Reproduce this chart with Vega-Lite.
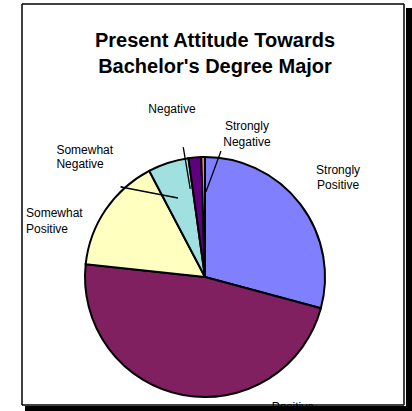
{
  "$schema": "https://vega.github.io/schema/vega-lite/v6.json",
  "width": 366,
  "height": 256,
  "autosize": "none",
  "padding": {"left": 22, "top": 149, "right": 24, "bottom": 6},
  "background": "white",
  "config": {"view": {"stroke": null}, "font": "Liberation Sans"},
  "title": {
    "text": ["Present Attitude Towards", "Bachelor's Degree Major"],
    "font": "Liberation Sans",
    "fontSize": 20,
    "fontWeight": "bold",
    "color": "black",
    "anchor": "middle",
    "frame": "group",
    "offset": -74,
    "dx": 10,
    "lineHeight": 26.7
  },
  "data": {
    "values": [
      {"attitude": "Strongly Positive", "label": "Strongly\nPositive", "percent": 29.2, "rank": 1},
      {"attitude": "Positive", "label": "Positive", "percent": 47.5, "rank": 2},
      {"attitude": "Somewhat Positive", "label": "Somewhat\nPositive", "percent": 15.6, "rank": 3},
      {"attitude": "Somewhat Negative", "label": "Somewhat\nNegative", "percent": 5.5, "rank": 4},
      {"attitude": "Negative", "label": "Negative", "percent": 1.7, "rank": 5},
      {"attitude": "Strongly Negative", "label": "Strongly\nNegative", "percent": 0.5, "rank": 6}
    ]
  },
  "layer": [
    {
      "data": {"values": [{"frame": "chart area"}]},
      "mark": {"type": "rect", "x": 0, "x2": 382, "y": -145, "y2": 256, "fill": "white", "stroke": "black", "strokeWidth": 1},
      "encoding": {}
    },
    {
      "mark": {"type": "arc", "radius": 120, "stroke": "black", "strokeWidth": 2},
      "encoding": {
        "theta": {"field": "percent", "type": "quantitative", "stack": true},
        "order": {"field": "rank", "type": "quantitative"},
        "color": {
          "field": "attitude",
          "type": "nominal",
          "scale": {
            "domain": ["Strongly Positive", "Positive", "Somewhat Positive", "Somewhat Negative", "Negative", "Strongly Negative"],
            "range": ["#8080FF", "#802060", "#FFFFC0", "#A0E0E0", "#600080", "#FF8080"]
          },
          "legend": null
        }
      }
    },
    {
      "data": {"values": [{"leader": "Negative"}]},
      "mark": {"type": "arc", "theta": 6.117, "theta2": 6.1172, "radius": 131, "radius2": 90, "stroke": "black", "strokeWidth": 1.3, "fill": null},
      "encoding": {}
    },
    {
      "data": {"values": [{"leader": "Strongly Negative"}]},
      "mark": {"type": "arc", "x": 184, "y": 42.7, "theta": 0.3525, "theta2": 0.3527, "radius": 42.6, "radius2": 0, "stroke": "black", "strokeWidth": 1.3, "fill": null},
      "encoding": {}
    },
    {
      "data": {"values": [{"leader": "Somewhat Negative"}]},
      "mark": {"type": "arc", "x": 156, "y": 49, "theta": 4.903, "theta2": 4.9032, "radius": 58, "radius2": 0, "stroke": "black", "strokeWidth": 1.3, "fill": null},
      "encoding": {}
    },
    {
      "mark": {"type": "text", "radius": 166, "thetaOffset": 0.013, "dy": -7.5, "align": "center", "baseline": "middle", "fontSize": 12, "lineHeight": 15, "lineBreak": "\n", "fill": "black"},
      "encoding": {
        "theta": {"field": "percent", "type": "quantitative", "stack": true},
        "order": {"field": "rank", "type": "quantitative"},
        "detail": {"field": "attitude"},
        "text": {"condition": {"test": "datum.attitude === 'Strongly Positive'", "field": "label"}, "value": ""}
      }
    },
    {
      "mark": {"type": "text", "radius": 157, "thetaOffset": -0.779, "align": "center", "baseline": "middle", "fontSize": 12, "lineHeight": 15, "lineBreak": "\n", "fill": "black"},
      "encoding": {
        "theta": {"field": "percent", "type": "quantitative", "stack": true},
        "order": {"field": "rank", "type": "quantitative"},
        "detail": {"field": "attitude"},
        "text": {"condition": {"test": "datum.attitude === 'Positive'", "field": "label"}, "value": ""}
      }
    },
    {
      "mark": {"type": "text", "radius": 187.6, "thetaOffset": -0.293, "dy": -7.5, "align": "left", "baseline": "middle", "fontSize": 12, "lineHeight": 15.5, "lineBreak": "\n", "fill": "black"},
      "encoding": {
        "theta": {"field": "percent", "type": "quantitative", "stack": true},
        "order": {"field": "rank", "type": "quantitative"},
        "detail": {"field": "attitude"},
        "text": {"condition": {"test": "datum.attitude === 'Somewhat Positive'", "field": "label"}, "value": ""}
      }
    },
    {
      "mark": {"type": "text", "radius": 190.9, "thetaOffset": -0.581, "dy": -7.5, "align": "left", "baseline": "middle", "fontSize": 12, "lineHeight": 14.5, "lineBreak": "\n", "fill": "black"},
      "encoding": {
        "theta": {"field": "percent", "type": "quantitative", "stack": true},
        "order": {"field": "rank", "type": "quantitative"},
        "detail": {"field": "attitude"},
        "text": {"condition": {"test": "datum.attitude === 'Somewhat Negative'", "field": "label"}, "value": ""}
      }
    },
    {
      "mark": {"type": "text", "radius": 171.2, "thetaOffset": -0.109, "align": "center", "baseline": "middle", "fontSize": 12, "lineHeight": 15, "lineBreak": "\n", "fill": "black"},
      "encoding": {
        "theta": {"field": "percent", "type": "quantitative", "stack": true},
        "order": {"field": "rank", "type": "quantitative"},
        "detail": {"field": "attitude"},
        "text": {"condition": {"test": "datum.attitude === 'Negative'", "field": "label"}, "value": ""}
      }
    },
    {
      "mark": {"type": "text", "radius": 149.5, "thetaOffset": 0.3, "dy": -8, "align": "center", "baseline": "middle", "fontSize": 12, "lineHeight": 16, "lineBreak": "\n", "fill": "black"},
      "encoding": {
        "theta": {"field": "percent", "type": "quantitative", "stack": true},
        "order": {"field": "rank", "type": "quantitative"},
        "detail": {"field": "attitude"},
        "text": {"condition": {"test": "datum.attitude === 'Strongly Negative'", "field": "label"}, "value": ""}
      }
    },
    {
      "data": {"values": [{"frame": "chart area border"}]},
      "mark": {"type": "rect", "x": 0, "x2": 382, "y": -145, "y2": 256, "fill": null, "stroke": "black", "strokeWidth": 1},
      "encoding": {}
    },
    {
      "data": {"values": [{"frame": "shadow right"}]},
      "mark": {"type": "rect", "x": 384, "x2": 390, "y": -141, "y2": 262, "fill": "black"},
      "encoding": {}
    },
    {
      "data": {"values": [{"frame": "shadow bottom"}]},
      "mark": {"type": "rect", "x": 3, "x2": 390, "y": 257, "y2": 262, "fill": "black"},
      "encoding": {}
    }
  ]
}
